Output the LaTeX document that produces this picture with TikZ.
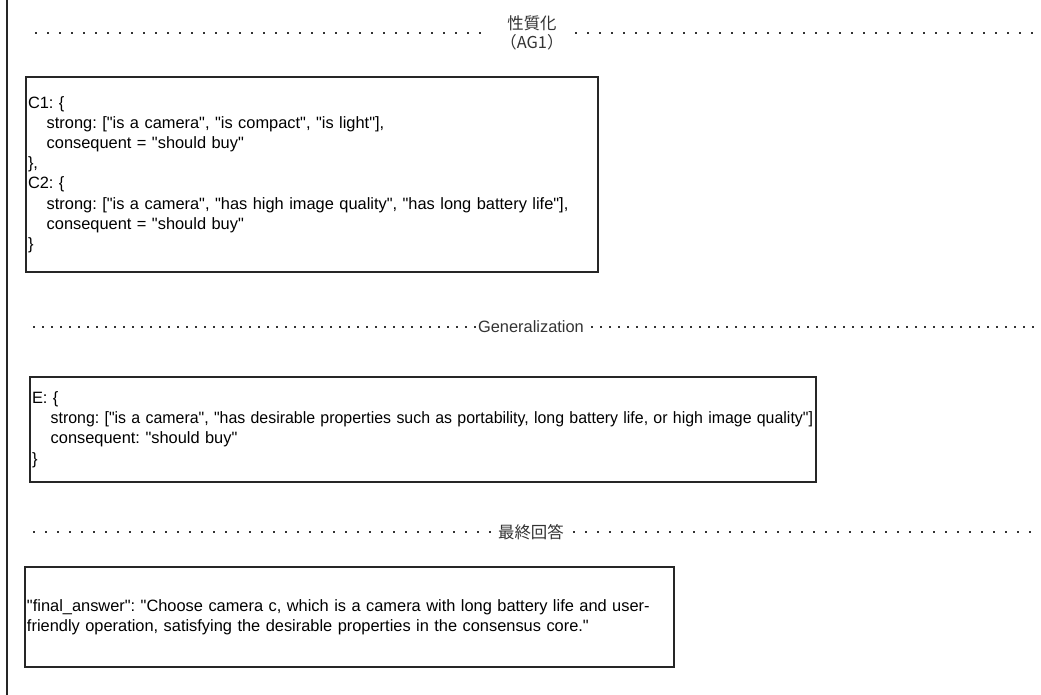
\documentclass[tikz,border=0pt]{standalone}
\usepackage{fontspec}
\usepackage{graphicx}
\newfontfamily\helv{Liberation Sans}
\newfontfamily\cjk{Noto Sans CJK JP}
\newcommand{\ind}{\hspace*{18.7pt}}
\frenchspacing

\begin{document}
\begin{tikzpicture}[x=1pt,y=-1pt,font=\helv\fontsize{16.4}{20.2}\selectfont,
    textbox/.style={draw=black!85,line width=1.2pt,anchor=north west,align=left,
      inner xsep=2pt,inner ysep=0pt,outer sep=0pt},
    dotrule/.style={black!80,line width=2.3pt,dash pattern=on 2.3pt off 9.7pt},
    finerule/.style={black!80,line width=1.6pt,dash pattern=on 1.6pt off 7.4pt},
    rulelabel/.style={pos=0.494,fill=white,inner ysep=1pt,align=center}]
      \useasboundingbox (0,0) rectangle (1041,695);

      % left margin
      \coordinate (top) at (7,0);
      \coordinate (bottom) at (7,695);
      \draw[black!85,line width=1.5pt] (top) -- (bottom);

      \coordinate (r1a) at (35,33);
      \coordinate (r1b) at (1041,33);
      \draw[dotrule] (r1a) -- node[rulelabel,inner xsep=12pt,font=\cjk\fontsize{16.4}{19.5}\selectfont] (ag1) {性質化\\（AG1）} (r1b);

      \node[textbox,text width=568pt,minimum height=195pt] (cores) at (26,77) {C1: \{\\
        \ind strong: ["is a camera", "is compact", "is light"],\\
        \ind consequent = "should buy"\\
        \},\\
        C2: \{\\
        \ind strong: ["is a camera", "has high image quality", "has long battery life"],\\
        \ind consequent = "should buy"\\
        \}};

      \coordinate (r2a) at (33,327);
      \coordinate (r2b) at (1041,327);
      \draw[finerule] (r2a) -- node[rulelabel,inner xsep=0pt] (gen) {Generalization} (r2b);

      \node[textbox,text width=782pt,minimum height=105pt] (ebox) at (30,377) {E: \{\\
        \ind\scalebox{0.97}[1]{strong: ["is a camera", "has desirable properties such as portability, long battery life, or high image quality"]}\\
        \ind consequent: "should buy"\\
        \}};

      \coordinate (r3a) at (33,532);
      \coordinate (r3b) at (1041,532);
      \draw[dotrule] (r3a) -- node[rulelabel,inner xsep=4pt,font=\cjk\fontsize{16.4}{19.5}\selectfont] (fin) {最終回答} (r3b);

      \node[textbox,text width=645pt,minimum height=100pt] (answer) at (25,567) {"final\_answer": "Choose camera c, which is a camera with long battery life and user-\\
        friendly operation, satisfying the desirable properties in the consensus core."};
\end{tikzpicture}
\end{document}
